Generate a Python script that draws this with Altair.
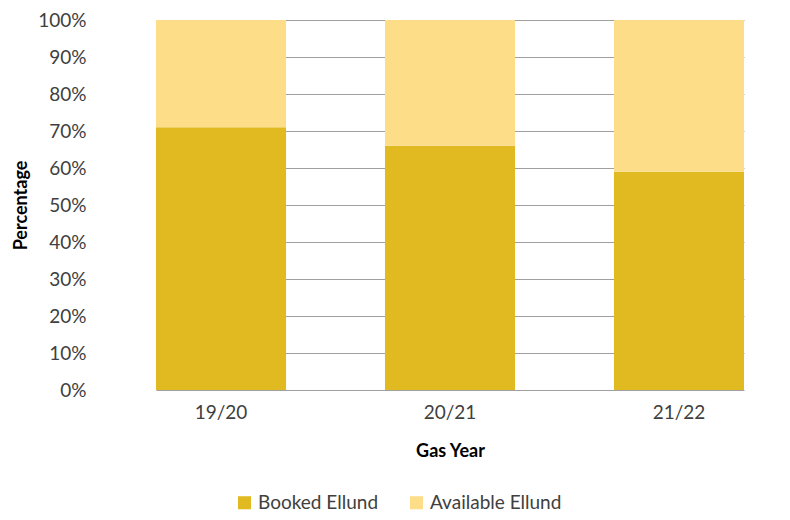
import altair as alt
import pandas as pd

years = ["19/20", "20/21", "21/22"]
booked = [71, 66, 59]
available = [29, 34, 41]
series = ["Booked Ellund", "Available Ellund"]
colors = ["#E0BA20", "#FEDD88"]

rows = []
for y, b, a in zip(years, booked, available):
    rows.append({"year": y, "series": series[0], "value": b / 100, "ord": 0})
    rows.append({"year": y, "series": series[1], "value": a / 100, "ord": 1})
df = pd.DataFrame(rows)

FONT = "Lato"

chart = alt.Chart(df).mark_bar().encode(
    x=alt.X("year:N", sort=years, title="Gas Year",
            scale=alt.Scale(paddingInner=0.432, paddingOuter=0, range=[58, 646]),
            axis=alt.Axis(labelAngle=0, ticks=False, domain=False,
                          labelFontSize=19, labelColor="#404040", labelPadding=13,
                          titleFontSize=18, titleFontWeight="bold", titleColor="#000000",
                          titlePadding=20, labelFont=FONT, titleFont=FONT,
                          titleX=352)),
    y=alt.Y("value:Q", stack="zero", title="Percentage",
            scale=alt.Scale(domain=[0, 1], nice=False),
            axis=alt.Axis(format="%", values=[i / 10 for i in range(11)],
                          ticks=False, domain=False, gridColor="#a0a0a0",
                          labelFontSize=19, labelColor="#404040", labelPadding=12,
                          titleFontSize=18, titleFontWeight="bold", titleColor="#000000",
                          titlePadding=7, labelFont=FONT, titleFont=FONT)),
    color=alt.Color("series:N", scale=alt.Scale(domain=series, range=colors),
                    legend=alt.Legend(title=None, orient="none", direction="horizontal",
                                      legendX=137, legendY=473,
                                      symbolType="square", symbolSize=170,
                                      symbolStrokeWidth=0,
                                      labelFontSize=19, labelColor="#404040",
                                      labelFont=FONT, columnPadding=28)),
    order=alt.Order("ord:Q"),
).properties(
    width=675, height=370,
    autosize=alt.AutoSizeParams(type="none"),
    padding={"left": 90, "top": 12, "right": 9, "bottom": 124},
).configure_view(stroke=None)

chart.save("out.html", embed_options={"renderer": "svg", "actions": False})
